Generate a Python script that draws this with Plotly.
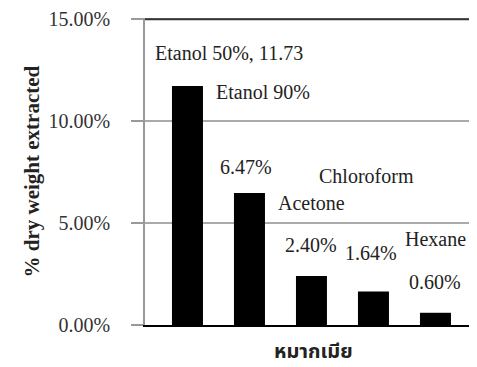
import plotly.graph_objects as go

solvents = ["Etanol 50%", "Etanol 90%", "Acetone", "Chloroform", "Hexane"]
values = [11.73, 6.47, 2.40, 1.64, 0.60]
y_ticks = [0, 5, 10, 15]
y_tick_labels = ["0.00%", "5.00%", "10.00%", "15.00%"]
y_title = "% dry weight extracted"
x_title = "หมากเมีย"
# label texts as printed on the chart, each tied to a bar index
label_texts = ["Etanol 50%, 11.73", "Etanol 90%", "6.47%", "Acetone",
               "2.40%", "Chloroform", "1.64%", "0.60%", "Hexane"]
label_bar = [0, 0, 1, 1, 2, 2, 3, 4, 4]
# pixel offsets of each label from the top-centre of its bar
label_dx = [42, 76, -3, 62, 0, 55, -2, 0, 0]
label_dy = [33, -6, 26, -10, 31, 100, 39, 31, 74]

FONT = "Liberation Serif, Times New Roman, serif"
PAGE = 8  # default body margin of the html page
W, H = 477 - PAGE, 367 - PAGE
L, R, T, B = 145 - PAGE, 0, 15 - PAGE, 42

fig = go.Figure(go.Bar(
    x=solvents, y=values, width=0.5,
    marker=dict(color="black", line=dict(width=0)),
))

ann = []
for txt, bi, dx, dy in zip(label_texts, label_bar, label_dx, label_dy):
    ann.append(dict(x=solvents[bi], y=values[bi], xref="x", yref="y", text=txt,
                    showarrow=False, xshift=dx, yshift=dy,
                    font=dict(family=FONT, size=20, color="#222")))
PH = H - T - B
ann.append(dict(x=(17 - 145) / (W - L - R), y=0.5, xref="paper", yref="paper",
                text="<b>" + y_title + "</b>", textangle=-90, showarrow=False,
                font=dict(family=FONT, size=21, color="#222")))
ann.append(dict(x=(313 - 145) / (W - L - R), y=-27 / PH, xref="paper", yref="paper",
                text="<b>" + x_title + "</b>", showarrow=False, yanchor="middle",
                font=dict(family="Noto Sans Thai, Loma, Garuda, Noto Serif, DejaVu Serif, serif",
                          size=20, color="#222")))

fig.update_layout(
    width=W, height=H, margin=dict(l=L, r=R, t=T, b=B),
    paper_bgcolor="white", plot_bgcolor="white", showlegend=False,
    annotations=ann,
    font=dict(family=FONT, size=20, color="#333"),
    shapes=[dict(type="line", xref="paper", x0=0, x1=1, yref="y", y0=15, y1=15,
                 line=dict(color="#333", width=2))],
)
fig.update_xaxes(type="category", range=[-0.685, 4.67], showticklabels=False,
                 showline=True, linecolor="black", linewidth=2, ticks="",
                 showgrid=False)
fig.update_yaxes(range=[0, 15.06], tickvals=y_ticks, ticktext=y_tick_labels,
                 ticks="outside", ticklen=12, tickcolor="#999", tickwidth=1.5,
                 showline=True, linecolor="#999", linewidth=1.5,
                 showgrid=True, gridcolor="#aaa", gridwidth=1.5,
                 ticklabelstandoff=17, ticklabeloverflow="allow", zeroline=False,
                 tickfont=dict(family=FONT, size=20, color="#333"))

fig.write_html("out.html")
